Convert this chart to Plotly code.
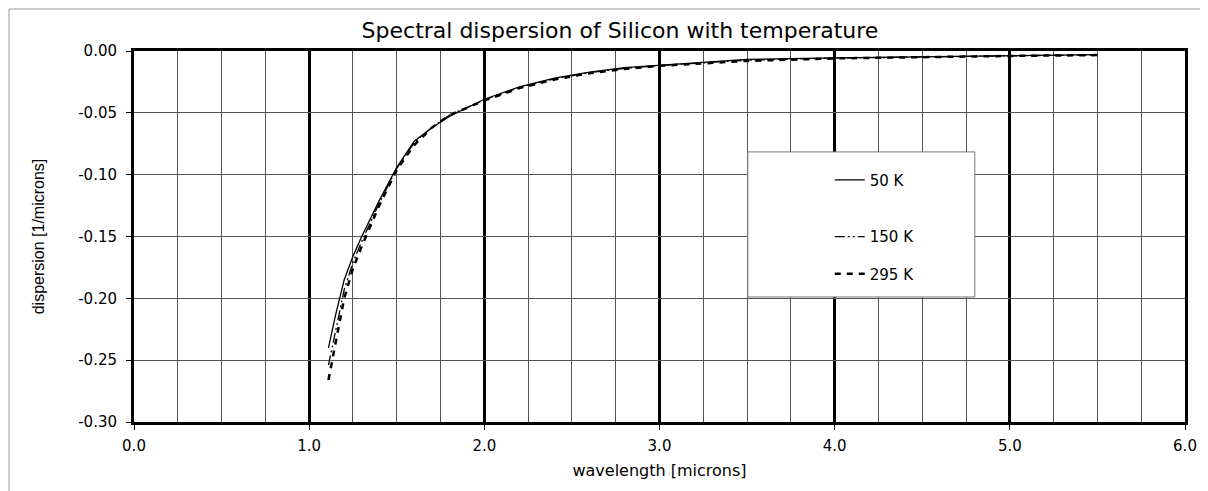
import plotly.graph_objects as go

# ---- data ----
wavelength = [1.11, 1.15, 1.2, 1.25, 1.3, 1.4, 1.5, 1.6, 1.7, 1.8, 2.0, 2.2, 2.4, 2.6, 2.8,
              3.0, 3.5, 4.0, 4.5, 5.0, 5.5]
disp_50K = [-0.240, -0.214, -0.185, -0.166, -0.150, -0.121, -0.094, -0.073, -0.062, -0.053,
            -0.039, -0.029, -0.022, -0.017, -0.0135, -0.0115, -0.0068, -0.0055, -0.0045,
            -0.0037, -0.0030]
disp_150K = [-0.254, -0.226, -0.193, -0.171, -0.154, -0.123, -0.095, -0.074, -0.062, -0.052,
             -0.0395, -0.0295, -0.0225, -0.0175, -0.014, -0.0118, -0.0074, -0.0058,
             -0.0047, -0.0039, -0.0032]
disp_295K = [-0.266, -0.237, -0.200, -0.176, -0.158, -0.125, -0.096, -0.076, -0.062, -0.052,
             -0.040, -0.030, -0.023, -0.018, -0.0145, -0.012, -0.008, -0.006, -0.0048,
             -0.004, -0.0033]

series_names = ["50 K", "150 K", "295 K"]
x_tickvals = [0, 1, 2, 3, 4, 5, 6]
x_ticktext = ["0.0", "1.0", "2.0", "3.0", "4.0", "5.0", "6.0"]
y_tickvals = [0.0, -0.05, -0.10, -0.15, -0.20, -0.25, -0.30]
y_ticktext = ["0.00", "-0.05", "-0.10", "-0.15", "-0.20", "-0.25", "-0.30"]

FONT = "DejaVu Sans"

fig = go.Figure()
fig.add_trace(go.Scatter(x=wavelength, y=disp_50K, name=series_names[0], mode="lines",
                         line=dict(color="black", width=1.3), legend="legend", showlegend=True))
fig.add_trace(go.Scatter(x=wavelength, y=disp_150K, name=series_names[1], mode="lines",
                         line=dict(color="black", width=1.3, dash="10px,3px,2px,3px,2px,3px"),
                         legend="legend2", showlegend=True))
fig.add_trace(go.Scatter(x=wavelength, y=disp_295K, name=series_names[2], mode="lines",
                         line=dict(color="black", width=2.5, dash="6px,6px"),
                         legend="legend3", showlegend=True))

leg_common = dict(bgcolor="rgba(0,0,0,0)", borderwidth=0, xanchor="left", yanchor="middle",
                  font=dict(family=FONT, size=15, color="black"), xref="paper", yref="paper")

LX = 0.662
fig.update_layout(
    width=1208, height=491,
    showlegend=True,
    margin=dict(l=126, r=31, t=43, b=77),
    paper_bgcolor="white", plot_bgcolor="white",
    title=dict(text="Spectral dispersion of Silicon with temperature",
               font=dict(family=FONT, size=22, color="black"),
               x=(620 - 134) / 1051, xref="paper", xanchor="center",
               y=1 - 22 / 491, yanchor="middle"),
    xaxis=dict(range=[0, 6], tickvals=x_tickvals, ticktext=x_ticktext,
               showgrid=True, gridcolor="black", gridwidth=3,
               minor=dict(dtick=0.25, tick0=0, showgrid=True, gridcolor="#555", gridwidth=1),
               showline=True, linecolor="black", linewidth=2.5, mirror=True,
               ticks="outside", ticklen=5, tickcolor="black", ticklabelstandoff=3,
               tickfont=dict(family=FONT, size=15, color="black"),
               title=dict(text="wavelength [microns]", standoff=12,
                          font=dict(family=FONT, size=16, color="black")),
               zeroline=False),
    yaxis=dict(range=[-0.30, 0.0], tickvals=y_tickvals, ticktext=y_ticktext,
               showgrid=True, gridcolor="#555", gridwidth=1,
               showline=True, linecolor="black", linewidth=3, mirror=True,
               ticks="outside", ticklen=5, tickcolor="black", ticklabelstandoff=6,
               tickfont=dict(family=FONT, size=15, color="black"),
               title=dict(text="dispersion [1/microns]", standoff=30,
                          font=dict(family="Liberation Sans", size=16, color="black")),
               zeroline=False),
    legend=dict(x=LX, y=0.652, **leg_common),
    legend2=dict(x=LX, y=0.499, **leg_common),
    legend3=dict(x=LX, y=0.399, **leg_common),
    shapes=[
        # legend frame
        dict(type="rect", xref="paper", yref="paper", x0=0.584, x1=0.800, y0=0.337, y1=0.728,
             fillcolor="white", line=dict(color="#777", width=1), layer="above"),
        # outer chart frame
        dict(type="rect", xref="paper", yref="paper", x0=(9 - 134) / 1051, x1=1.05,
             y0=-0.3, y1=(422 - 9) / 371,
             fillcolor="rgba(0,0,0,0)", line=dict(color="#999", width=1), layer="below"),
    ],
)

fig.write_html("out.html")
